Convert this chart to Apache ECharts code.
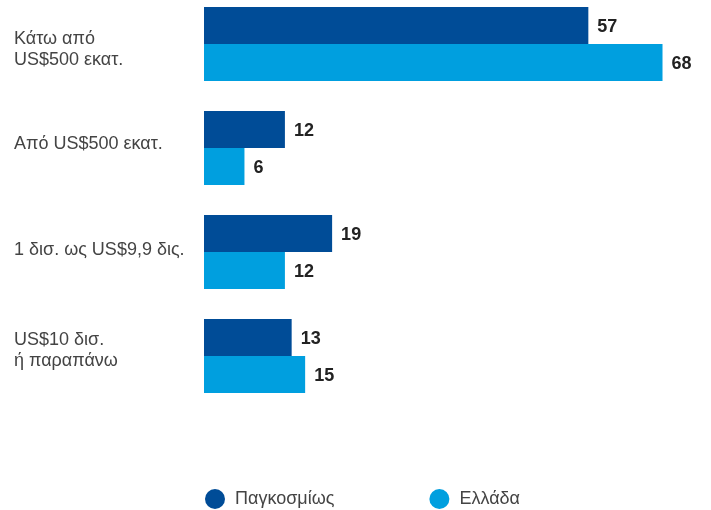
<!DOCTYPE html>
<html>
<head>
<meta charset="utf-8">
<script src="https://cdn.jsdelivr.net/npm/echarts@6/dist/echarts.min.js"></script>
<style>
  html, body { margin: 0; padding: 0; background: #fff; }
  #chart { width: 711px; height: 510px; }
</style>
</head>
<body>
<div id="chart"></div>
<script>
// Company size bands and the share (%) for each group
const categories = ['Κάτω από\nUS$500 εκατ.', 'Από US$500 εκατ.', '1 δισ. ως US$9,9 δις.', 'US$10 δισ.\nή παραπάνω'];
const globalValues = [57, 12, 19, 13];
const greeceValues = [68, 6, 12, 15];
const seriesNames = ['Παγκοσμίως', 'Ελλάδα'];

// vertical nudge (px) of each category label relative to its band centre
const labelShift = [6, -4, -2, -5];

const font = 'Liberation Sans, Arial, sans-serif';
const catText = { fontFamily: font, fontSize: 18, lineHeight: 21, color: '#444' };

// rich styles: text line, plus an empty spacer line per category that nudges the block
const rich = { t: catText };
labelShift.forEach((s, i) => {
  rich['g' + i] = { fontSize: 1, lineHeight: Math.max(1, 2 * Math.abs(s)) };
});

function catLabel(value, index) {
  const s = labelShift[index];
  const text = value.split('\n').map(l => '{t|' + l + '}').join('\n');
  const spacer = '{g' + index + '|\u200B}';
  return s >= 0 ? spacer + '\n' + text : text + '\n' + spacer;
}

const chart = echarts.init(document.getElementById('chart'));
const labelStyle = {
  show: true,
  position: 'right',
  distance: 9,
  offset: [0, 2],
  fontFamily: font,
  fontWeight: 'bold',
  fontSize: 18,
  color: '#222'
};

chart.setOption({
  animation: false,
  grid: { left: 204, top: -8, width: 472, height: 416, outerBoundsMode: 'none', containLabel: false },
  xAxis: {
    type: 'value', min: 0, max: 70,
    show: false
  },
  yAxis: {
    type: 'category',
    data: categories,
    inverse: true,
    axisLine: { show: false },
    axisTick: { show: false },
    axisLabel: {
      align: 'left',
      margin: 190,
      formatter: catLabel,
      rich: rich
    }
  },
  legend: {
    left: 200,
    top: 484,
    icon: 'circle',
    itemWidth: 20,
    itemHeight: 20,
    itemGap: 95,
    textStyle: {
      fontFamily: font,
      fontSize: 18,
      color: '#444',
      padding: [0, 0, 0, 5]
    },
    data: seriesNames
  },
  series: [
    {
      name: seriesNames[0], type: 'bar', data: globalValues,
      barWidth: 37, barGap: '0%', barCategoryGap: '29%',
      itemStyle: { color: '#004c97' },
      label: labelStyle
    },
    {
      name: seriesNames[1], type: 'bar', data: greeceValues,
      barWidth: 37, barGap: '0%',
      itemStyle: { color: '#009fdf' },
      label: labelStyle
    }
  ]
});
</script>
</body>
</html>
